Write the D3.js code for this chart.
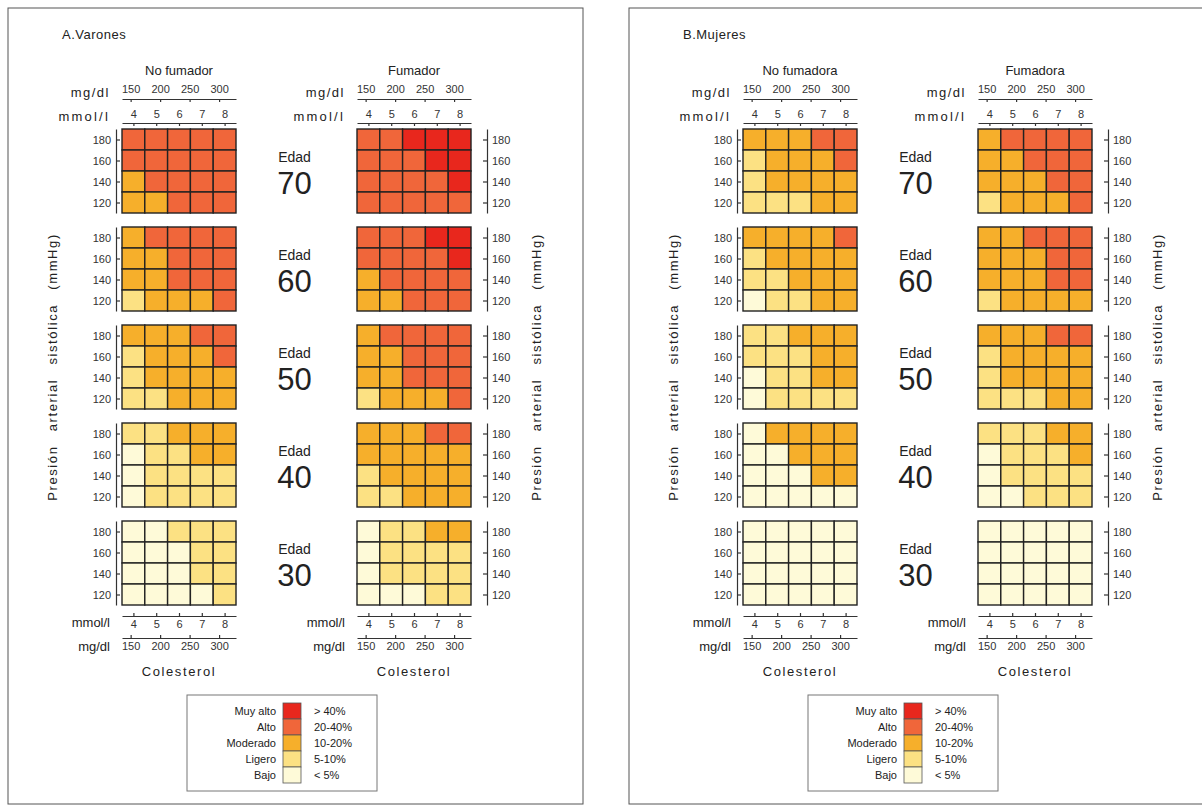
<!DOCTYPE html>
<html>
<head>
<meta charset="utf-8">
<script src="https://d3js.org/d3.v7.min.js"></script>
<title>Tablas de riesgo coronario</title>
<style>
  body { margin: 0; background: #fff; }
  text { font-family: "Liberation Sans", Arial, sans-serif; fill: #222; }
  .axis path, .axis line { stroke: #333; stroke-width: 1.2; }
  .axis text { font-size: 11px; fill: #333; }
  .cell { stroke: #222; stroke-width: 1.4; }
</style>
</head>
<body>
<svg id="chart"></svg>
<script>
// categories
const ages = [70, 60, 50, 40, 30];
const sbpRows = [180, 160, 140, 120];
const cholMmol = [4, 5, 6, 7, 8];
const cholMgTicks = [150, 200, 250, 300];
const riskNames = ["Bajo", "Ligero", "Moderado", "Alto", "Muy alto"];
const riskRanges = ["< 5%", "5-10%", "10-20%", "20-40%", "> 40%"];
const riskColors = ["#fefad8", "#fce183", "#f6af2b", "#f0663a", "#e8271d"];

// risk level per cell (0 = Bajo ... 4 = Muy alto), [age][sbp row][chol col]
const varonesNoFumador = [
  [[3,3,3,3,3],[3,3,3,3,3],[2,3,3,3,3],[2,2,3,3,3]],
  [[2,3,3,3,3],[2,2,3,3,3],[2,2,3,3,3],[1,2,2,2,3]],
  [[2,2,2,3,3],[1,2,2,2,3],[1,2,2,2,2],[1,1,2,2,2]],
  [[1,1,2,2,2],[0,1,1,2,2],[0,1,1,1,1],[0,1,1,1,1]],
  [[0,0,1,1,1],[0,0,0,1,1],[0,0,0,1,1],[0,0,0,0,1]]
];
const varonesFumador = [
  [[3,3,4,4,4],[3,3,3,4,4],[3,3,3,3,4],[3,3,3,3,3]],
  [[3,3,3,4,4],[3,3,3,3,4],[2,3,3,3,3],[2,2,3,3,3]],
  [[2,3,3,3,3],[2,2,3,3,3],[2,2,3,3,3],[1,2,2,2,3]],
  [[2,2,2,3,3],[2,2,2,2,2],[1,2,2,2,2],[1,1,2,2,2]],
  [[0,1,1,2,2],[0,1,1,1,1],[0,1,1,1,1],[0,0,0,1,1]]
];
const mujeresNoFumadora = [
  [[2,2,2,3,3],[1,2,2,2,3],[1,2,2,2,2],[1,1,1,2,2]],
  [[2,2,2,2,3],[1,2,2,2,2],[1,1,2,2,2],[0,1,1,2,2]],
  [[1,1,2,2,2],[1,1,1,2,2],[0,1,1,2,2],[0,1,1,1,1]],
  [[0,2,2,2,2],[0,0,2,2,2],[0,0,0,2,2],[0,0,0,0,0]],
  [[0,0,0,0,0],[0,0,0,0,0],[0,0,0,0,0],[0,0,0,0,0]]
];
const mujeresFumadora = [
  [[2,3,3,3,3],[2,2,3,3,3],[2,2,2,3,3],[1,2,2,2,3]],
  [[2,2,3,3,3],[2,2,2,3,3],[2,2,2,3,3],[1,2,2,2,2]],
  [[2,2,2,3,3],[1,2,2,2,2],[1,2,2,2,2],[1,1,1,2,2]],
  [[1,1,1,2,2],[0,1,1,1,2],[0,1,1,1,1],[0,0,1,1,1]],
  [[0,0,0,0,0],[0,0,0,0,0],[0,0,0,0,0],[0,0,0,0,0]]
];

const panels = [
  {title: "A.Varones", grids: [{name: "No fumador", data: varonesNoFumador}, {name: "Fumador", data: varonesFumador}]},
  {title: "B.Mujeres", grids: [{name: "No fumadora", data: mujeresNoFumadora}, {name: "Fumadora", data: mujeresFumadora}]}
];

const width = 1202, height = 812;
const svg = d3.select("#chart").attr("width", width).attr("height", height);

const panelShift = 621;
const gridW = 114, blockH = 84, blockPitch = 98, firstTop = 129;
const gridX = [122, 357];
const MG_PER_MMOL = 38.67;

const colorScale = d3.scaleOrdinal().domain(d3.range(5)).range(riskColors);
const xBand = d3.scaleBand().domain(cholMmol).range([0, gridW]);
const yBand = d3.scaleBand().domain(sbpRows).range([0, blockH]);
const xMmol = d3.scaleLinear().domain([3.5, 8.5]).range([0, gridW]);
const xMg = d3.scaleLinear().domain([3.5 * MG_PER_MMOL, 8.5 * MG_PER_MMOL]).range([0, gridW]);
const ySbp = d3.scaleLinear().domain([190, 110]).range([0, blockH]);
const blockY = d3.scaleOrdinal().domain(ages).range(ages.map((a, i) => firstTop + i * blockPitch));

panels.forEach((panel, p) => {
  const pg = svg.append("g").attr("transform", `translate(${p * panelShift}, 0)`);

  pg.append("rect")
    .attr("x", 8).attr("y", 8).attr("width", 575).attr("height", 796)
    .attr("fill", "none").attr("stroke", "#555").attr("stroke-width", 1);

  pg.append("text").attr("x", 62).attr("y", 39)
    .style("font-size", "13px").style("letter-spacing", "0.5px")
    .text(panel.title);

  // vertical axis titles
  [57, 541].forEach(x => {
    pg.append("text")
      .attr("transform", `translate(${x}, 367) rotate(-90)`)
      .attr("text-anchor", "middle")
      .style("font-size", "13px").style("letter-spacing", "1.6px").style("word-spacing", "9px")
      .text("Presión arterial sistólica (mmHg)");
  });

  panel.grids.forEach((grid, gi) => {
    const gx = gridX[gi];
    const gg = pg.append("g").attr("transform", `translate(${gx}, 0)`);

    gg.append("text").attr("x", gridW / 2).attr("y", 75)
      .attr("text-anchor", "middle").style("font-size", "13px")
      .text(grid.name);

    // top axes
    gg.append("g").attr("class", "axis").attr("transform", "translate(0, 99)")
      .call(d3.axisBottom(xMg).tickValues(cholMgTicks).tickFormat(d3.format("d")).tickSize(3).tickSizeOuter(0))
      .call(a => a.selectAll("text").attr("y", -14));
    gg.append("g").attr("class", "axis").attr("transform", "translate(0, 123)")
      .call(d3.axisBottom(xMmol).tickValues(cholMmol).tickFormat(d3.format("d")).tickSize(3).tickSizeOuter(0))
      .call(a => a.selectAll("text").attr("y", -13));
    gg.append("text").attr("x", -12).attr("y", 97).attr("text-anchor", "end")
      .style("font-size", "13px").style("letter-spacing", "1.5px").text("mg/dl");
    gg.append("text").attr("x", -12).attr("y", 121).attr("text-anchor", "end")
      .style("font-size", "13px").style("letter-spacing", "2.2px").text("mmol/l");

    // bottom axes
    gg.append("g").attr("class", "axis").attr("transform", "translate(0, 616)")
      .call(d3.axisTop(xMmol).tickValues(cholMmol).tickFormat(d3.format("d")).tickSize(3).tickSizeOuter(0))
      .call(a => a.selectAll("text").attr("y", 12).attr("dy", "0em"));
    gg.append("g").attr("class", "axis").attr("transform", "translate(0, 638)")
      .call(d3.axisTop(xMg).tickValues(cholMgTicks).tickFormat(d3.format("d")).tickSize(3).tickSizeOuter(0))
      .call(a => a.selectAll("text").attr("y", 12).attr("dy", "0em"));
    gg.append("text").attr("x", -12).attr("y", 627).attr("text-anchor", "end")
      .style("font-size", "13px").text("mmol/l");
    gg.append("text").attr("x", -12).attr("y", 651).attr("text-anchor", "end")
      .style("font-size", "13px").text("mg/dl");
    gg.append("text").attr("x", gridW / 2).attr("y", 676).attr("text-anchor", "middle")
      .style("font-size", "13px").style("letter-spacing", "1.6px").text("Colesterol");

    // blocks per age
    ages.forEach((age, ai) => {
      const bg = gg.append("g").attr("transform", `translate(0, ${blockY(age)})`);
      const cells = [];
      sbpRows.forEach((s, ri) => cholMmol.forEach((c, ci) => cells.push({s, c, v: grid.data[ai][ri][ci]})));

      bg.selectAll("rect.cell").data(cells).join("rect")
        .attr("class", "cell")
        .attr("x", d => xBand(d.c)).attr("y", d => yBand(d.s))
        .attr("width", xBand.bandwidth()).attr("height", yBand.bandwidth())
        .attr("fill", d => colorScale(d.v));

      if (gi === 0) {
        bg.append("g").attr("class", "axis").attr("transform", "translate(-6, 0)")
          .call(d3.axisRight(ySbp).tickValues(sbpRows).tickSize(4).tickSizeOuter(0))
          .call(a => a.selectAll("text").attr("x", -5).attr("text-anchor", "end"));
      } else {
        bg.append("g").attr("class", "axis").attr("transform", `translate(${gridW + 16}, 0)`)
          .call(d3.axisLeft(ySbp).tickValues(sbpRows).tickSize(4).tickSizeOuter(0))
          .call(a => a.selectAll("text").attr("x", 5).attr("text-anchor", "start"));
      }
    });
  });

  // Edad labels between the grids
  const edadX = (gridX[0] + gridW + gridX[1]) / 2 - 2;
  ages.forEach(age => {
    const y0 = blockY(age);
    pg.append("text").attr("x", edadX).attr("y", y0 + 33).attr("text-anchor", "middle")
      .style("font-size", "14px").text("Edad");
    pg.append("text").attr("x", edadX).attr("y", y0 + 65).attr("text-anchor", "middle")
      .style("font-size", "31px").text(age);
  });

  // legend
  const lg = pg.append("g").attr("transform", "translate(187, 695)");
  lg.append("rect").attr("width", 190).attr("height", 96)
    .attr("fill", "#fff").attr("stroke", "#777").attr("stroke-width", 1);
  const legendOrder = d3.range(4, -1, -1);
  const ly = d3.scaleBand().domain(legendOrder).range([8, 88]);
  lg.selectAll("rect.sw").data(legendOrder).join("rect")
    .attr("class", "sw")
    .attr("x", 96).attr("y", d => ly(d))
    .attr("width", 18).attr("height", ly.bandwidth())
    .attr("fill", d => colorScale(d)).attr("stroke", "#555").attr("stroke-width", 0.8);
  lg.selectAll("text.ln").data(legendOrder).join("text")
    .attr("class", "ln")
    .attr("x", 89).attr("y", d => ly(d) + ly.bandwidth() / 2 + 4)
    .attr("text-anchor", "end").style("font-size", "11px")
    .text(d => riskNames[d]);
  lg.selectAll("text.lr").data(legendOrder).join("text")
    .attr("class", "lr")
    .attr("x", 127).attr("y", d => ly(d) + ly.bandwidth() / 2 + 4)
    .style("font-size", "11px")
    .text(d => riskRanges[d]);
});
</script>
</body>
</html>
